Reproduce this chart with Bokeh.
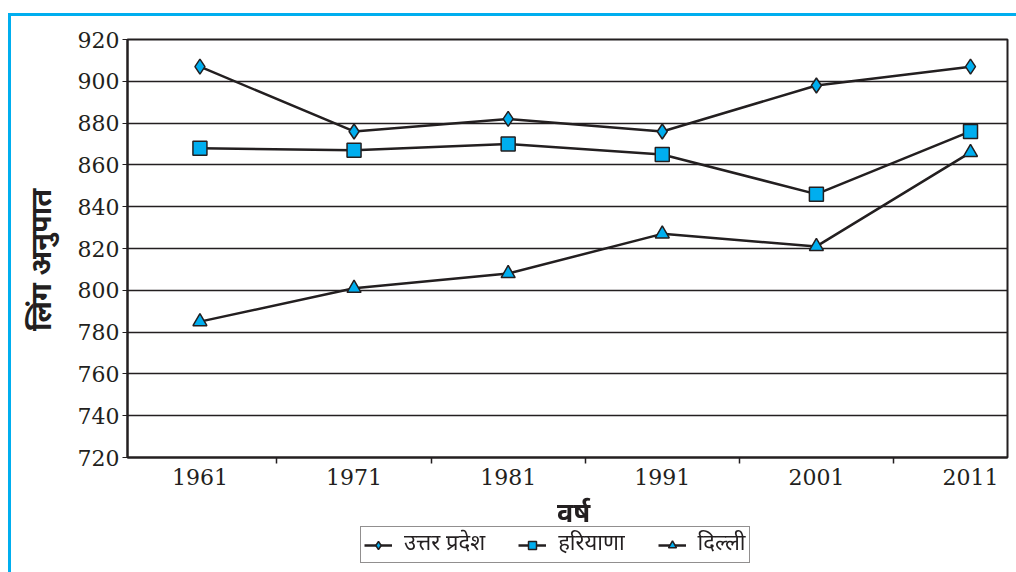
from bokeh.plotting import figure
from bokeh.layouts import column
from bokeh.models import FixedTicker, Range1d, Legend, LegendItem, InlineStyleSheet, Label
from bokeh.embed import file_html
from bokeh.resources import INLINE

years = [1961, 1971, 1981, 1991, 2001, 2011]
up = [907, 876, 882, 876, 898, 907]
haryana = [868, 867, 870, 865, 846, 876]
delhi = [785, 801, 808, 827, 821, 866]
series_names = ["उत्तर प्रदेश", "हरियाणा", "दिल्ली"]
y_ticks = list(range(720, 921, 20))
x_minor = [1966, 1976, 1986, 1996, 2006]
x_title = "वर्ष"
y_title = "लिंग अनुपात"

INK = "#231F20"
BLUE = "#00AEEF"
DEVA = "Noto Sans Devanagari, Noto Sans, sans-serif"
SERIF = "DejaVu Serif"
MAIN_H = 496
X0, X1 = 1956.3, 2013.4

p = figure(width=1016, height=MAIN_H, output_backend="svg", toolbar_location=None,
           x_range=Range1d(X0, X1), y_range=Range1d(720, 920),
           min_border_left=127, min_border_right=9, min_border_top=39,
           min_border_bottom=MAIN_H - 457, background_fill_alpha=0,
           border_fill_alpha=0)

p.outline_line_color = INK
p.outline_line_width = 2
p.xgrid.visible = False
p.ygrid.grid_line_color = INK
p.ygrid.grid_line_width = 1.5
p.ygrid.ticker = FixedTicker(ticks=y_ticks)

p.yaxis.ticker = FixedTicker(ticks=y_ticks)
p.yaxis.axis_line_color = INK
p.yaxis.axis_line_width = 2
p.yaxis.major_tick_out = 5
p.yaxis.major_tick_in = 0
p.yaxis.major_tick_line_color = INK
p.yaxis.minor_tick_line_color = None
p.yaxis.major_label_text_font = SERIF
p.yaxis.major_label_text_font_size = "22px"
p.yaxis.major_label_text_color = INK
p.yaxis.major_label_standoff = 3
p.yaxis.axis_label = y_title + "\u00a0\u00a0\u00a0"
p.yaxis.axis_label_text_font = DEVA
p.yaxis.axis_label_text_font_style = "bold"
p.yaxis.axis_label_text_font_size = "29px"
p.yaxis.axis_label_text_color = INK
p.yaxis.axis_label_standoff = 12

p.xaxis.ticker = FixedTicker(ticks=years, minor_ticks=x_minor)
p.xaxis.axis_line_color = INK
p.xaxis.axis_line_width = 2
p.xaxis.major_tick_line_color = None
p.xaxis.major_tick_out = 0
p.xaxis.major_tick_in = 0
p.xaxis.minor_tick_line_color = INK
p.xaxis.minor_tick_out = 6
p.xaxis.minor_tick_in = 0
p.xaxis.minor_tick_line_width = 1.5
p.xaxis.major_label_text_font = SERIF
p.xaxis.major_label_text_font_size = "22px"
p.xaxis.major_label_text_color = INK
p.xaxis.major_label_standoff = 5

# strip below the chart: x-axis title and legend
Q_H = 572 - MAIN_H
q = figure(width=1016, height=Q_H, output_backend="svg", toolbar_location=None,
           x_range=Range1d(X0, X1), y_range=Range1d(0, Q_H),
           min_border=0, min_border_left=127, min_border_right=9,
           background_fill_alpha=0, border_fill_alpha=0)
q.axis.visible = False
q.grid.visible = False
q.outline_line_color = None

q.add_layout(Label(x=(X0 + X1) / 2 + 0.4, y=Q_H - 19, text=x_title,
                   text_font=DEVA, text_font_style="bold", text_font_size="27px",
                   text_color=INK, text_align="center", text_baseline="middle"))

specs = [(series_names[0], up, "diamond", 15),
         (series_names[1], haryana, "square", 14),
         (series_names[2], delhi, "triangle", 14)]
items = []
for name, vals, marker, size in specs:
    p.line(years, vals, line_color=INK, line_width=2.5)
    p.scatter(years, vals, marker=marker, size=size, fill_color=BLUE,
              line_color=INK, line_width=1.5)
    ln = q.line(years, vals, line_color=INK, line_width=2.5)
    sc = q.scatter(years, vals, marker=marker, size=size - 1, fill_color=BLUE,
                   line_color=INK, line_width=1.5)
    items.append(LegendItem(label=name, renderers=[ln, sc]))

legend = Legend(items=items, location=(233, 9), orientation="horizontal",
                label_text_font=DEVA, label_text_font_size="22px",
                label_text_color=INK, border_line_color=INK, border_line_width=1.5,
                glyph_width=28, glyph_height=20, label_standoff=12, spacing=33,
                padding=3, margin=0, background_fill_alpha=1)
q.add_layout(legend, "center")

p.stylesheets = [InlineStyleSheet(css="""
:host::after { content: ''; position: fixed; left: 8px; top: 13px;
  right: -60px; bottom: -60px; border: 3px solid #00AEEF; pointer-events: none; }
""")]

layout = column(p, q, spacing=0)
open("out.html", "w").write(file_html(layout, INLINE))
